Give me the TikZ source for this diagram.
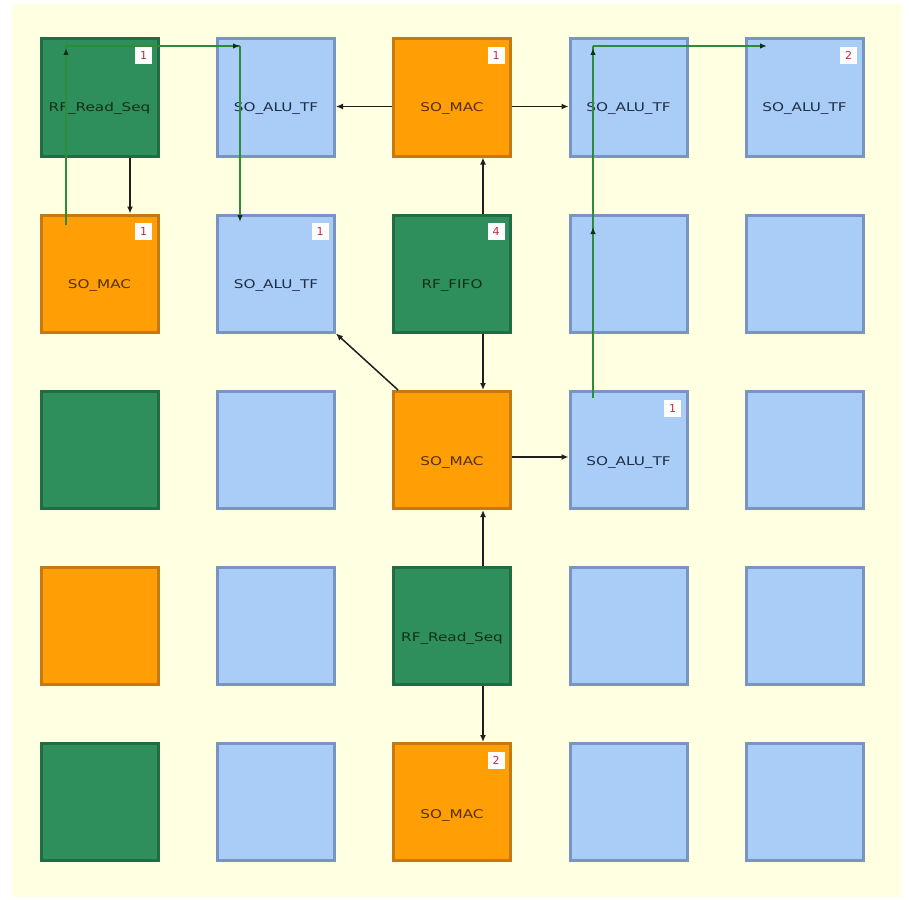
\documentclass[tikz,border=0pt]{standalone}
\usepackage{fontspec}
\usepackage{graphicx}
\setmainfont{DejaVu Sans}
\usetikzlibrary{arrows.meta,calc}
\definecolor{bgy}{HTML}{FFFFE2}
\definecolor{gfill}{HTML}{2F8F5C}
\definecolor{gdraw}{HTML}{226B43}
\definecolor{ofill}{HTML}{FF9E05}
\definecolor{odraw}{HTML}{C47A12}
\definecolor{bfill}{HTML}{AACDF8}
\definecolor{bdraw}{HTML}{7894C2}
\definecolor{gtext}{HTML}{10301A}
\definecolor{otext}{HTML}{553000}
\definecolor{btext}{HTML}{1E2E48}
\definecolor{badgered}{HTML}{C8283C}
\definecolor{gline}{HTML}{2E8B3A}
\definecolor{kline}{HTML}{1E1E1E}
\tikzset{
  cell/.style={minimum size=117pt, inner sep=0pt, line width=3pt, draw, anchor=center},
  gcell/.style={cell, fill=gfill, draw=gdraw},
  ocell/.style={cell, fill=ofill, draw=odraw},
  bcell/.style={cell, fill=bfill, draw=bdraw},
  lbl/.style={inner sep=0pt, font=\fontsize{12}{14}\selectfont},
  glbl/.style={lbl, text=gtext},
  olbl/.style={lbl, text=otext},
  blbl/.style={lbl, text=btext},
  badge/.style={fill=white, minimum size=17pt, inner sep=0pt, text=badgered, font=\fontsize{11}{12}\selectfont},
  kconn/.style={draw=kline, line width=1.5pt, -{Latex[length=7pt,width=6pt]}},
  gconn/.style={draw=gline, line width=1.4pt},
  gend/.style={draw=gline, line width=1.4pt, -{Latex[length=7pt,width=5.5pt,color=gtext]}},
}
\newcommand{\wide}[1]{\scalebox{1.27}[1]{#1}}
\begin{document}
\begin{tikzpicture}[x=1pt,y=-1pt]
\useasboundingbox (0,0) rectangle (909,899);
\fill[white] (0,0) rectangle (909,899);
\fill[bgy] (12,4) rectangle (902,897);

% row 1
\node[gcell] (r11) at (99.5,97.5) {};
\node[bcell] (a12) at (276,97.5) {};
\node[ocell] (m13) at (452,97.5) {};
\node[bcell] (a14) at (628.5,97.5) {};
\node[bcell] (a15) at (804.5,97.5) {};
% row 2
\node[ocell] (m21) at (99.5,273.5) {};
\node[bcell] (a22) at (276,273.5) {};
\node[gcell] (f23) at (452,273.5) {};
\node[bcell] (a24) at (628.5,273.5) {};
\node[bcell] (a25) at (804.5,273.5) {};
% row 3
\node[gcell] (g31) at (99.5,450) {};
\node[bcell] (a32) at (276,450) {};
\node[ocell] (m33) at (452,450) {};
\node[bcell] (a34) at (628.5,450) {};
\node[bcell] (a35) at (804.5,450) {};
% row 4
\node[ocell] (o41) at (99.5,626) {};
\node[bcell] (a42) at (276,626) {};
\node[gcell] (r43) at (452,626) {};
\node[bcell] (a44) at (628.5,626) {};
\node[bcell] (a45) at (804.5,626) {};
% row 5
\node[gcell] (g51) at (99.5,802) {};
\node[bcell] (a52) at (276,802) {};
\node[ocell] (m53) at (452,802) {};
\node[bcell] (a54) at (628.5,802) {};
\node[bcell] (a55) at (804.5,802) {};

% labels
\node[glbl] (t11) at ([yshift=-11pt]r11.center) {\wide{RF\_Read\_Seq}};
\node[blbl] (t12) at ([yshift=-11pt]a12.center) {\wide{SO\_ALU\_TF}};
\node[olbl] (t13) at ([yshift=-11pt]m13.center) {\wide{SO\_MAC}};
\node[blbl] (t14) at ([yshift=-11pt]a14.center) {\wide{SO\_ALU\_TF}};
\node[blbl] (t15) at ([yshift=-11pt]a15.center) {\wide{SO\_ALU\_TF}};
\node[olbl] (t21) at ([yshift=-12pt]m21.center) {\wide{SO\_MAC}};
\node[blbl] (t22) at ([yshift=-12pt]a22.center) {\wide{SO\_ALU\_TF}};
\node[glbl] (t23) at ([yshift=-12pt]f23.center) {\wide{RF\_FIFO}};
\node[olbl] (t33) at ([yshift=-12pt]m33.center) {\wide{SO\_MAC}};
\node[blbl] (t34) at ([yshift=-12pt]a34.center) {\wide{SO\_ALU\_TF}};
\node[glbl] (t43) at ([yshift=-12pt]r43.center) {\wide{RF\_Read\_Seq}};
\node[olbl] (t53) at ([yshift=-13pt]m53.center) {\wide{SO\_MAC}};

% badges
\node[badge] (b11) at ([xshift=-16pt,yshift=-18pt]r11.north east) {1};
\node[badge] (b13) at ([xshift=-16pt,yshift=-18pt]m13.north east) {1};
\node[badge] (b15) at ([xshift=-16pt,yshift=-18pt]a15.north east) {2};
\node[badge] (b21) at ([xshift=-16pt,yshift=-18pt]m21.north east) {1};
\node[badge] (b22) at ([xshift=-16pt,yshift=-18pt]a22.north east) {1};
\node[badge] (b23) at ([xshift=-16pt,yshift=-18pt]f23.north east) {4};
\node[badge] (b34) at ([xshift=-16pt,yshift=-18pt]a34.north east) {1};
\node[badge] (b53) at ([xshift=-16pt,yshift=-18pt]m53.north east) {2};

% black connectors
\draw[kconn] ([yshift=-9pt]m13.west) -- ([yshift=-9pt]a12.east);
\draw[kconn] ([yshift=-9pt]m13.east) -- ([yshift=-9pt]a14.west);
\draw[kconn] ([xshift=31pt]f23.north) -- ([xshift=31pt]m13.south);
\draw[kconn] ([xshift=31pt]f23.south) -- ([xshift=31pt]m33.north);
\draw[kconn] ([xshift=6pt]m33.north west) -- (a22.south east);
\draw[kconn] ([yshift=-7pt]m33.east) -- ([yshift=-7pt]a34.west);
\draw[kconn] ([xshift=31pt]r43.north) -- ([xshift=31pt]m33.south);
\draw[kconn] ([xshift=31pt]r43.south) -- ([xshift=31pt]m53.north);
\draw[kconn] ([xshift=30.5pt]r11.south) -- ([xshift=30.5pt]m21.north);

% green connector (left)
\coordinate (gs) at (66,225);
\coordinate (gA) at (66,46);
\coordinate (gB) at (240,46);
\coordinate (ge) at (240,222);
\draw[gconn] (gs) -- (gA) -- (gB);
\draw[gend] (gB) -- (ge);
\draw[gend] ($(gA)+(0,12)$) -- ($(gA)+(0,2)$);
\draw[gend] ($(gB)+(-12,0)$) -- (gB);

% green connector (right)
\coordinate (hs) at (593,398);
\coordinate (hm) at (593,227);
\coordinate (hA) at (593,46);
\coordinate (he) at (767,46);
\draw[gconn] (hs) -- (hA);
\draw[gend] (hA) -- (he);
\draw[gend] ($(hm)+(0,10)$) -- (hm);
\draw[gend] ($(hA)+(0,12)$) -- ($(hA)+(0,2)$);
\end{tikzpicture}
\end{document}
